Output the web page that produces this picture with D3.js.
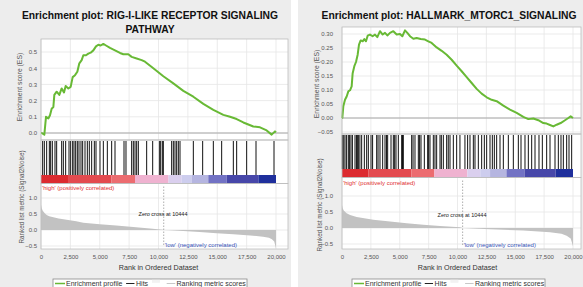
<!DOCTYPE html>
<html>
<head>
<meta charset="utf-8">
<script src="https://cdn.jsdelivr.net/npm/d3@7"></script>
<style>
  html, body { margin: 0; padding: 0; background: #fff; }
  svg { display: block; font-family: "Liberation Sans", Arial, sans-serif; }
</style>
</head>
<body>
<svg id="chart" width="583" height="287"></svg>
<script>
// ---- shared ticks ----
const xTicks = [0, 2500, 5000, 7500, 10000, 12500, 15000, 17500, 20000];
const metricTicks = [-0.5, 0.0, 0.5, 1.0];
const zeroCross = 10444;
// colour bar steps along the ranked list (rank where each block starts/ends)
const colorBarBreaks = [0, 2300, 6000, 8000, 10850, 11970, 12820, 14240, 15800, 18500, 20000];

// ---- RIG-I-like receptor signaling pathway ----
const rigTitle = ['Enrichment plot: RIG-I-LIKE RECEPTOR SIGNALING', 'PATHWAY'];
const rigEsTicks = [0.0, 0.1, 0.2, 0.3, 0.4, 0.5];
const rigEsRank = [0, 57, 284, 425, 624, 766, 908, 1050, 1135, 1333, 1560, 1759, 1957, 2099, 2326, 2525,
  2695, 2894, 3092, 3262, 3461, 3603, 3830, 4028, 4227, 4454, 4681, 4879, 5078, 5305, 5532, 5872,
  6298, 6723, 7007, 7433, 7716, 8142, 8567, 8851, 9560, 10411, 11262, 12113, 12965, 13816, 14667,
  15518, 16085, 16652, 17220, 18071, 18638, 19206, 19631, 19915, 20000];
const rigEsScore = [0.0, 0.0, -0.01, 0.10, 0.09, 0.11, 0.15, 0.16, 0.235, 0.255, 0.235, 0.275, 0.25, 0.29, 0.275, 0.285,
  0.345, 0.357, 0.378, 0.43, 0.45, 0.48, 0.48, 0.49, 0.496, 0.51, 0.535, 0.545, 0.54, 0.55, 0.54, 0.525,
  0.51, 0.494, 0.486, 0.486, 0.47, 0.46, 0.45, 0.44, 0.40, 0.35, 0.306, 0.26, 0.224, 0.18, 0.143,
  0.112, 0.10, 0.086, 0.065, 0.04, 0.035, 0.016, -0.01, 0.01, 0.004];
const rigHits = [142, 284, 482, 709, 823, 965, 1191, 1333, 1759, 1901, 2099, 2383, 2525, 2695, 2809, 2950,
  3092, 3234, 3404, 3546, 3745, 3943, 4113, 4312, 4539, 4681, 5021, 5305, 5645, 6014, 6298, 7064,
  7234, 7716, 7858, 8000, 8142, 8284, 8993, 9504, 10071, 10184, 10326, 10411, 11121, 11262, 11404,
  11546, 11688, 11830, 12965, 13759, 14667, 15376, 16369, 16652, 17503, 18298, 19830];
const rigMetricRank = [0, 60, 150, 300, 480, 700, 1050, 1500, 2180, 3000, 3600, 5000, 6400, 7850, 9280,
  10350, 10444, 11000, 12100, 13500, 14950, 16370, 17800, 18900, 19400, 19650, 19850, 20000];
const rigMetricValue = [0.79, 0.68, 0.60, 0.53, 0.47, 0.43, 0.40, 0.36, 0.32, 0.27, 0.23, 0.18, 0.14, 0.095, 0.05,
  0.01, 0.0, -0.01, -0.03, -0.06, -0.10, -0.13, -0.17, -0.21, -0.24, -0.29, -0.36, -0.58];

// ---- HALLMARK_MTORC1_SIGNALING ----
const mtorTitle = ['Enrichment plot: HALLMARK_MTORC1_SIGNALING'];
const mtorEsTicks = [-0.05, 0.00, 0.05, 0.10, 0.15, 0.20, 0.25, 0.30];
const mtorEsRank = [0, 29, 115, 260, 404, 548, 693, 837, 923, 1068, 1212, 1356, 1472, 1616, 1789, 1933, 2078,
  2222, 2424, 2655, 2857, 3059, 3290, 3521, 3723, 3925, 4156, 4444, 4733, 5022, 5224, 5455, 5657, 5887,
  6176, 6465, 6811, 7186, 7475, 7763, 8196, 8629, 9062, 9495, 9928, 10361, 10794, 11227, 11659, 12092,
  12525, 12958, 13391, 13968, 14545, 15123, 15700, 16133, 16566, 16999, 17431, 17720, 18009, 18297,
  18586, 18932, 19307, 19596, 19798, 20000];
const mtorEsScore = [0.0, 0.0, 0.042, 0.065, 0.077, 0.095, 0.099, 0.113, 0.16, 0.185, 0.20, 0.226, 0.262, 0.277, 0.274, 0.282, 0.274,
  0.294, 0.298, 0.292, 0.298, 0.289, 0.31, 0.298, 0.304, 0.295, 0.304, 0.31, 0.298, 0.30, 0.292, 0.313, 0.304, 0.292,
  0.283, 0.286, 0.282, 0.28, 0.274, 0.268, 0.252, 0.24, 0.226, 0.208, 0.187, 0.167, 0.146, 0.125, 0.104, 0.087,
  0.074, 0.065, 0.06, 0.044, 0.03, 0.018, 0.004, -0.004, -0.002, -0.008, -0.018, -0.02, -0.025, -0.03,
  -0.024, -0.018, -0.008, 0.0, 0.006, 0.0];
const mtorHits = [28, 150, 260, 400, 548, 660, 779, 900, 1126, 1250, 1356, 1414, 1550, 1703, 1934, 2136, 2280,
  2511, 2650, 3002, 3120, 3290, 3521, 3723, 3850, 3954, 4243, 4445, 4560, 4675, 4877, 5166, 5240, 5310,
  6032, 6150, 6320, 6609, 6720, 6840, 7128, 7417, 7500, 7619, 7907, 8050, 8196, 8485, 8600, 8773, 9062,
  9200, 9351, 9639, 9928, 10212, 10645, 10876, 11082, 11371, 11515, 11804, 12092, 12323, 12525, 12814,
  13016, 13189, 13391, 13680, 13968, 14401, 14834, 15267, 15498, 15844, 16133, 16422, 16710, 17056,
  17345, 17720, 18009, 18442, 18730, 18961, 19163, 19452, 19654, 19885];
const mtorMetricRank = [0, 60, 150, 400, 700, 1270, 2710, 4160, 5600, 7040, 8490, 10220, 10444, 12810,
  15700, 18010, 19000, 19450, 19800, 20000];
const mtorMetricValue = [0.72, 0.62, 0.55, 0.46, 0.41, 0.34, 0.26, 0.20, 0.15, 0.10, 0.06, 0.02, 0.0, -0.04,
  -0.08, -0.13, -0.18, -0.24, -0.33, -0.57];

// ---- styling ----
const barColors = ['#dc2b30', '#e34a4f', '#ec6c70', '#efb2d0', '#dacfee', '#cdcdee', '#b5b5e0',
  '#7272c4', '#4747a9', '#1f2f9c'];
const esGreen = '#68b935';
const gridColor = '#e6e6e6';
const frameColor = '#bdbdbd';

const svg = d3.select('#chart');

function drawPanel(p) {
  const g = svg.append('g');
  g.append('rect').attr('x', p.bgX).attr('y', 0).attr('width', p.bgW).attr('height', 287).attr('fill', '#ededed');

  const title = g.append('text').attr('text-anchor', 'middle').attr('font-weight', 'bold')
    .attr('font-size', 10.3).attr('fill', '#111');
  p.title.forEach((line, i) => {
    title.append('tspan').attr('x', p.titleX).attr('y', p.titleY + i * 14).text(line);
  });

  const x = d3.scaleLinear().domain([0, 20000]).range([p.x0, p.x1]);
  const yEs = d3.scaleLinear().domain([0, p.esRef]).range([p.esZeroY, p.esRefY]);
  const yMet = d3.scaleLinear().domain([0, 1]).range([p.metZeroY, p.metOneY]);
  const width = p.right - p.x0;

  // plot boxes
  [[p.esTop, p.esBottom], [p.esBottom, p.barBottom], [p.barBottom, p.metBottom]].forEach(([a, b]) => {
    g.append('rect').attr('x', p.x0).attr('y', a).attr('width', width).attr('height', b - a)
      .attr('fill', '#fff');
  });

  // grid in ES and metric panels
  const grid = g.append('g').attr('stroke', gridColor).attr('stroke-width', 0.8);
  xTicks.forEach((t) => {
    grid.append('line').attr('x1', x(t)).attr('x2', x(t)).attr('y1', p.esTop).attr('y2', p.esBottom);
    grid.append('line').attr('x1', x(t)).attr('x2', x(t)).attr('y1', p.barBottom).attr('y2', p.metBottom);
  });
  p.esTicks.forEach((t) => {
    grid.append('line').attr('x1', p.x0).attr('x2', p.right).attr('y1', yEs(t)).attr('y2', yEs(t));
  });
  metricTicks.forEach((t) => {
    grid.append('line').attr('x1', p.x0).attr('x2', p.right).attr('y1', yMet(t)).attr('y2', yMet(t));
  });

  // ES zero line
  g.append('line').attr('x1', p.x0).attr('x2', p.right).attr('y1', yEs(0)).attr('y2', yEs(0))
    .attr('stroke', '#a8a8a8').attr('stroke-width', 1);

  // hits
  g.append('g').selectAll('line').data(p.hits).join('line')
    .attr('x1', (d) => x(d)).attr('x2', (d) => x(d))
    .attr('y1', p.esBottom + 1).attr('y2', p.barTop)
    .attr('stroke', '#111').attr('stroke-width', 1);

  // colour bar
  g.append('g').selectAll('rect').data(barColors).join('rect')
    .attr('x', (d, i) => x(colorBarBreaks[i]))
    .attr('width', (d, i) => x(colorBarBreaks[i + 1]) - x(colorBarBreaks[i]))
    .attr('y', p.barTop).attr('height', p.barBottom - p.barTop)
    .attr('fill', (d) => d);

  // ranked metric area
  const metric = p.metricRank.map((r, i) => [r, p.metricValue[i]]);
  g.append('path').datum(metric)
    .attr('d', d3.area().x((d) => x(d[0])).y0(yMet(0)).y1((d) => yMet(d[1])))
    .attr('fill', '#c2c2c2');

  // zero cross
  g.append('line').attr('x1', x(zeroCross)).attr('x2', x(zeroCross))
    .attr('y1', p.barBottom + 3).attr('y2', p.metBottom - 3)
    .attr('stroke', '#9a9a9a').attr('stroke-width', 0.8).attr('stroke-dasharray', '1.5,1.5');
  g.append('text').attr('x', p.zeroLabelX).attr('y', p.zeroLabelY).attr('text-anchor', 'middle')
    .attr('font-size', 5.5).attr('fill', '#222').text('Zero cross at ' + zeroCross);
  g.append('text').attr('x', p.x0 + 1).attr('y', p.highY).attr('font-size', 6).attr('fill', '#e0302f')
    .text("'high' (positively correlated)");
  g.append('text').attr('x', x(zeroCross) + 1).attr('y', p.lowY).attr('font-size', 6).attr('fill', '#3552b8')
    .text("'low' (negatively correlated)");

  // ES curve
  const es = p.esRank.map((r, i) => [r, p.esScore[i]]);
  g.append('path').datum(es)
    .attr('d', d3.line().x((d) => x(d[0])).y((d) => yEs(d[1])))
    .attr('fill', 'none').attr('stroke', esGreen).attr('stroke-width', 2).attr('stroke-linejoin', 'round');

  // frames
  [[p.esTop, p.esBottom], [p.esBottom, p.barBottom], [p.barBottom, p.metBottom]].forEach(([a, b]) => {
    g.append('rect').attr('x', p.x0).attr('y', a).attr('width', width).attr('height', b - a)
      .attr('fill', 'none').attr('stroke', frameColor).attr('stroke-width', 0.8);
  });

  // axes
  const styleAxis = (sel) => {
    sel.select('.domain').remove();
    sel.selectAll('text').attr('font-size', 6).attr('fill', '#555').attr('font-family', null);
  };
  g.append('g').attr('transform', `translate(${p.x0},0)`)
    .call(d3.axisLeft(yEs).tickValues(p.esTicks).tickSize(0).tickPadding(p.tickPad).tickFormat(d3.format(p.esFormat)))
    .call(styleAxis);
  g.append('g').attr('transform', `translate(${p.x0},0)`)
    .call(d3.axisLeft(yMet).tickValues(metricTicks).tickSize(0).tickPadding(p.tickPad).tickFormat(d3.format('.1f')))
    .call(styleAxis);
  g.append('g').attr('transform', `translate(0,${p.metBottom})`)
    .call(d3.axisBottom(x).tickValues(xTicks).tickSize(0).tickPadding(6).tickFormat(d3.format(',')))
    .call(styleAxis);

  g.append('text').attr('transform', `translate(${p.esTitleX},${p.esTitleY}) rotate(-90)`)
    .attr('text-anchor', 'middle').attr('font-size', 6.8).attr('fill', '#555').text('Enrichment score (ES)');
  g.append('text').attr('transform', `translate(${p.metTitleX},${p.metTitleY}) rotate(-90)`)
    .attr('text-anchor', 'middle').attr('font-size', 6.3).attr('fill', '#555').text('Ranked list metric (Signal2Noise)');
  g.append('text').attr('x', (p.x0 + p.x1) / 2).attr('y', 269.5).attr('text-anchor', 'middle')
    .attr('font-size', 7.2).attr('fill', '#333').text('Rank in Ordered Dataset');

  // legend
  const lg = g.append('g').attr('transform', `translate(${p.legendX},279)`);
  lg.append('rect').attr('width', p.legendW).attr('height', 12).attr('fill', '#fff')
    .attr('stroke', '#8a8a8a').attr('stroke-width', 0.8);
  const ly = 4.5;
  lg.append('line').attr('x1', 2).attr('x2', 12).attr('y1', ly).attr('y2', ly).attr('stroke', esGreen).attr('stroke-width', 1.5);
  lg.append('text').attr('x', 13).attr('y', ly + 2.4).attr('font-size', 7).attr('fill', '#333').text('Enrichment profile');
  lg.append('line').attr('x1', p.legendW * 0.377).attr('x2', p.legendW * 0.42).attr('y1', ly).attr('y2', ly).attr('stroke', '#222').attr('stroke-width', 1);
  lg.append('text').attr('x', p.legendW * 0.428).attr('y', ly + 2.4).attr('font-size', 7).attr('fill', '#333').text('Hits');
  lg.append('rect').attr('x', p.legendW * 0.51).attr('y', 0.8).attr('width', 8).attr('height', 3).attr('fill', '#f2f2f2');
  lg.append('line').attr('x1', p.legendW * 0.586).attr('x2', p.legendW * 0.63).attr('y1', ly).attr('y2', ly).attr('stroke', '#c8c8c8').attr('stroke-width', 1);
  lg.append('text').attr('x', p.legendW * 0.637).attr('y', ly + 2.4).attr('font-size', 7).attr('fill', '#333').text('Ranking metric scores');
}

drawPanel({
  bgX: 0, bgW: 291, title: rigTitle, titleX: 150, titleY: 18.5,
  x0: 41, x1: 276, right: 288,
  esTop: 39, esBottom: 140, esRef: 0.5, esZeroY: 133, esRefY: 52, esTicks: rigEsTicks, esFormat: '.1f',
  barTop: 175, barBottom: 183.5,
  metBottom: 249, metZeroY: 230, metOneY: 198,
  hits: rigHits, esRank: rigEsRank, esScore: rigEsScore, metricRank: rigMetricRank, metricValue: rigMetricValue,
  tickPad: 4, zeroLabelX: 163, zeroLabelY: 216, highY: 189.5, lowY: 246.5,
  esTitleX: 22, esTitleY: 87, metTitleX: 24, metTitleY: 197,
  legendX: 53, legendW: 194,
});

drawPanel({
  bgX: 298, bgW: 285, title: mtorTitle, titleX: 449, titleY: 18.5,
  x0: 342, x1: 573, right: 581,
  esTop: 27, esBottom: 134, esRef: 0.30, esZeroY: 118, esRefY: 34, esTicks: mtorEsTicks, esFormat: '.2f',
  barTop: 169, barBottom: 177.5,
  metBottom: 249, metZeroY: 228, metOneY: 196,
  hits: mtorHits, esRank: mtorEsRank, esScore: mtorEsScore, metricRank: mtorMetricRank, metricValue: mtorMetricValue,
  tickPad: 9, zeroLabelX: 462, zeroLabelY: 217, highY: 184.5, lowY: 246.5,
  esTitleX: 319, esTitleY: 84, metTitleX: 322, metTitleY: 205,
  legendX: 352, legendW: 193,
});
</script>
</body>
</html>
